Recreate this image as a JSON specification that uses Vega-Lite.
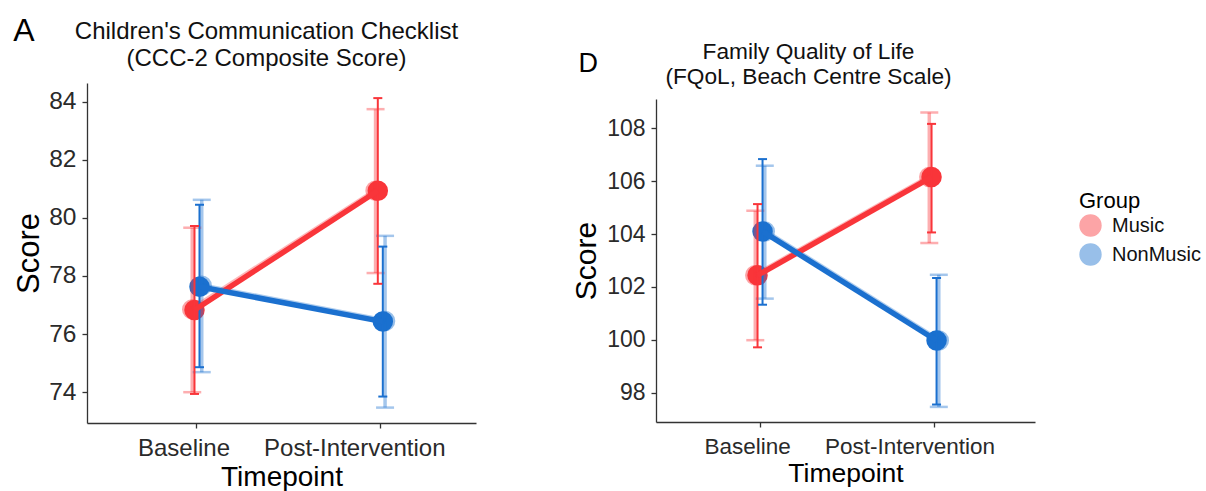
{
  "$schema": "https://vega.github.io/schema/vega-lite/v6.json",
  "background": "white",
  "padding": {"left": 12, "top": 14, "right": 171, "bottom": 0},
  "config": {
    "font": "Liberation Sans",
    "view": {"stroke": null},
    "axis": {"grid": false, "domainColor": "#333", "tickColor": "#333", "labelColor": "#2a2a2a", "titleColor": "#000", "titleFontWeight": "normal", "domainWidth": 1.3, "tickWidth": 1.3, "labelLimit": 400}
  },
  "datasets": {
    "ccc": [
      {"Timepoint": "Baseline", "Group": "Music", "est": "raw", "mean": 76.85, "lo": 74.0, "hi": 79.66},
      {"Timepoint": "Baseline", "Group": "NonMusic", "est": "raw", "mean": 77.66, "lo": 74.69, "hi": 80.62},
      {"Timepoint": "Post-Intervention", "Group": "Music", "est": "raw", "mean": 80.93, "lo": 78.1, "hi": 83.74},
      {"Timepoint": "Post-Intervention", "Group": "NonMusic", "est": "raw", "mean": 76.45, "lo": 73.47, "hi": 79.38},
      {"Timepoint": "Baseline", "Group": "Music", "est": "model", "mean": 76.83, "lo": 73.94, "hi": 79.72},
      {"Timepoint": "Baseline", "Group": "NonMusic", "est": "model", "mean": 77.63, "lo": 74.86, "hi": 80.45},
      {"Timepoint": "Post-Intervention", "Group": "Music", "est": "model", "mean": 80.93, "lo": 77.73, "hi": 84.12},
      {"Timepoint": "Post-Intervention", "Group": "NonMusic", "est": "model", "mean": 76.43, "lo": 73.85, "hi": 79.01}
    ],
    "fqol": [
      {"Timepoint": "Baseline", "Group": "Music", "est": "raw", "mean": 102.44, "lo": 99.99, "hi": 104.88},
      {"Timepoint": "Baseline", "Group": "NonMusic", "est": "raw", "mean": 104.1, "lo": 101.56, "hi": 106.58},
      {"Timepoint": "Post-Intervention", "Group": "Music", "est": "raw", "mean": 106.15, "lo": 103.66, "hi": 108.59},
      {"Timepoint": "Post-Intervention", "Group": "NonMusic", "est": "raw", "mean": 99.98, "lo": 97.47, "hi": 102.46},
      {"Timepoint": "Baseline", "Group": "Music", "est": "model", "mean": 102.44, "lo": 99.72, "hi": 105.13},
      {"Timepoint": "Baseline", "Group": "NonMusic", "est": "model", "mean": 104.1, "lo": 101.33, "hi": 106.83},
      {"Timepoint": "Post-Intervention", "Group": "Music", "est": "model", "mean": 106.15, "lo": 104.06, "hi": 108.16},
      {"Timepoint": "Post-Intervention", "Group": "NonMusic", "est": "model", "mean": 99.98, "lo": 97.56, "hi": 102.34}
    ]
  },
  "spacing": 95,
  "resolve": {"scale": {"color": "shared"}, "legend": {"color": "shared"}},
  "hconcat": [
    {
      "width": 389,
      "height": 340,
      "data": {"name": "ccc"},
      "resolve": {"scale": {"xOffset": "independent"}, "axis": {"x": "independent", "y": "independent"}},
      "layer": [
        {
          "transform": [{"filter": {"field": "est", "equal": "model"}}],
          "mark": {"type": "point", "filled": true, "size": 420, "opacity": 1, "strokeWidth": 0},
          "encoding": {
            "x": {"field": "Timepoint", "type": "nominal", "sort": ["Baseline", "Post-Intervention"], "scale": {"type": "band", "paddingInner": 0, "paddingOuter": 0.061, "align": 0.82}, "axis": {"orient": "bottom", "title": "Timepoint", "titleFontSize": 28, "titlePadding": 3, "labelFontSize": 24, "labelAngle": 0, "labelPadding": 8, "tickSize": 5, "labelOffset": {"condition": {"test": "datum.value === 'Baseline'", "value": -13}, "value": -25.5}}},
            "xOffset": {"field": "Group", "type": "nominal", "scale": {"type": "point", "domain": ["Music", "NonMusic"], "range": [86.65, 96.65]}},
            "y": {"field": "mean", "type": "quantitative", "scale": {"domain": [72.94, 84.64], "nice": false, "zero": false}, "axis": {"orient": "left", "title": "Score", "titleFontSize": 31, "titlePadding": 3, "labelFontSize": 24.5, "labelPadding": 6, "tickSize": 5, "values": [74, 76, 78, 80, 82, 84]}},
            "color": {"field": "Group", "type": "nominal", "scale": {"domain": ["Music", "NonMusic"], "range": ["#F9353A", "#1B70CF"]}, "legend": {"title": "Group", "orient": "none", "legendX": 992, "legendY": 108, "symbolType": "circle", "symbolSize": 500, "symbolOpacity": 1, "symbolStrokeWidth": 0, "labelFontSize": 20, "labelColor": "#111", "titleFontSize": 22, "titleFontWeight": "normal", "titleColor": "#000", "labelOffset": 10, "rowPadding": 6, "titlePadding": 1, "padding": 0}}
          }
        },
        {
          "transform": [{"filter": {"field": "est", "equal": "raw"}}],
          "mark": {"type": "point", "filled": true, "size": 420, "opacity": 0.45, "strokeWidth": 0},
          "encoding": {
            "x": {"field": "Timepoint", "type": "nominal", "sort": ["Baseline", "Post-Intervention"], "axis": null},
            "xOffset": {"field": "Group", "type": "nominal", "scale": {"type": "point", "domain": ["Music", "NonMusic"], "range": [82.15, 101.15]}},
            "y": {"field": "mean", "type": "quantitative", "axis": null},
            "color": {"field": "Group", "type": "nominal"}
          }
        },
        {
          "transform": [{"filter": {"field": "est", "equal": "raw"}}],
          "mark": {"type": "rule", "strokeWidth": 3.5, "opacity": 0.4},
          "encoding": {
            "x": {"field": "Timepoint", "type": "nominal", "sort": ["Baseline", "Post-Intervention"], "axis": null},
            "xOffset": {"field": "Group", "type": "nominal", "scale": {"type": "point", "domain": ["Music", "NonMusic"], "range": [82.15, 101.15]}},
            "y": {"field": "lo", "type": "quantitative", "axis": null},
            "y2": {"field": "hi"},
            "color": {"field": "Group", "type": "nominal"}
          }
        },
        {
          "transform": [{"filter": {"field": "est", "equal": "raw"}}],
          "mark": {"type": "tick", "size": 18, "thickness": 2.5, "opacity": 0.4},
          "encoding": {
            "x": {"field": "Timepoint", "type": "nominal", "sort": ["Baseline", "Post-Intervention"], "axis": null},
            "xOffset": {"field": "Group", "type": "nominal", "scale": {"type": "point", "domain": ["Music", "NonMusic"], "range": [82.15, 101.15]}},
            "y": {"field": "hi", "type": "quantitative", "axis": null},
            "color": {"field": "Group", "type": "nominal"}
          }
        },
        {
          "transform": [{"filter": {"field": "est", "equal": "raw"}}],
          "mark": {"type": "tick", "size": 18, "thickness": 2.5, "opacity": 0.4},
          "encoding": {
            "x": {"field": "Timepoint", "type": "nominal", "sort": ["Baseline", "Post-Intervention"], "axis": null},
            "xOffset": {"field": "Group", "type": "nominal", "scale": {"type": "point", "domain": ["Music", "NonMusic"], "range": [82.15, 101.15]}},
            "y": {"field": "lo", "type": "quantitative", "axis": null},
            "color": {"field": "Group", "type": "nominal"}
          }
        },
        {
          "transform": [{"filter": {"field": "est", "equal": "raw"}}],
          "mark": {"type": "line", "strokeWidth": 5.5, "opacity": 0.35},
          "encoding": {
            "x": {"field": "Timepoint", "type": "nominal", "sort": ["Baseline", "Post-Intervention"], "axis": null},
            "xOffset": {"field": "Group", "type": "nominal", "scale": {"type": "point", "domain": ["Music", "NonMusic"], "range": [82.15, 101.15]}},
            "y": {"field": "mean", "type": "quantitative", "axis": null},
            "color": {"field": "Group", "type": "nominal"}
          }
        },
        {
          "transform": [{"filter": {"field": "est", "equal": "model"}}],
          "mark": {"type": "rule", "strokeWidth": 2, "opacity": 1},
          "encoding": {
            "x": {"field": "Timepoint", "type": "nominal", "sort": ["Baseline", "Post-Intervention"], "axis": null},
            "xOffset": {"field": "Group", "type": "nominal", "scale": {"type": "point", "domain": ["Music", "NonMusic"], "range": [86.65, 96.65]}},
            "y": {"field": "lo", "type": "quantitative", "axis": null},
            "y2": {"field": "hi"},
            "color": {"field": "Group", "type": "nominal"}
          }
        },
        {
          "transform": [{"filter": {"field": "est", "equal": "model"}}],
          "mark": {"type": "tick", "size": 9, "thickness": 2, "opacity": 1},
          "encoding": {
            "x": {"field": "Timepoint", "type": "nominal", "sort": ["Baseline", "Post-Intervention"], "axis": null},
            "xOffset": {"field": "Group", "type": "nominal", "scale": {"type": "point", "domain": ["Music", "NonMusic"], "range": [86.65, 96.65]}},
            "y": {"field": "hi", "type": "quantitative", "axis": null},
            "color": {"field": "Group", "type": "nominal"}
          }
        },
        {
          "transform": [{"filter": {"field": "est", "equal": "model"}}],
          "mark": {"type": "tick", "size": 9, "thickness": 2, "opacity": 1},
          "encoding": {
            "x": {"field": "Timepoint", "type": "nominal", "sort": ["Baseline", "Post-Intervention"], "axis": null},
            "xOffset": {"field": "Group", "type": "nominal", "scale": {"type": "point", "domain": ["Music", "NonMusic"], "range": [86.65, 96.65]}},
            "y": {"field": "lo", "type": "quantitative", "axis": null},
            "color": {"field": "Group", "type": "nominal"}
          }
        },
        {
          "transform": [{"filter": {"field": "est", "equal": "model"}}],
          "mark": {"type": "line", "strokeWidth": 5.5, "opacity": 1},
          "encoding": {
            "x": {"field": "Timepoint", "type": "nominal", "sort": ["Baseline", "Post-Intervention"], "axis": {"orient": "top", "domain": false, "ticks": false, "labels": false, "title": ["Children's Communication Checklist", "(CCC-2 Composite Score)"], "titleFontSize": 24, "titleLineHeight": 26.5, "titleX": 179, "titleY": -44.5, "titleAlign": "center", "titleBaseline": "alphabetic", "titleAngle": 0, "titleColor": "#111"}},
            "xOffset": {"field": "Group", "type": "nominal", "scale": {"type": "point", "domain": ["Music", "NonMusic"], "range": [86.65, 96.65]}},
            "y": {"field": "mean", "type": "quantitative", "axis": {"orient": "right", "domain": false, "ticks": false, "labels": false, "title": "A", "titleAngle": 0, "titleX": -463.3, "titleY": -43, "titleAlign": "left", "titleBaseline": "alphabetic", "titleFontSize": 32, "titleColor": "#000"}},
            "color": {"field": "Group", "type": "nominal"}
          }
        }
      ]
    },
    {
      "width": 379,
      "height": 339,
      "data": {"name": "fqol"},
      "resolve": {"scale": {"xOffset": "independent"}, "axis": {"x": "independent", "y": "independent"}},
      "layer": [
        {
          "transform": [{"filter": {"field": "est", "equal": "model"}}],
          "mark": {"type": "point", "filled": true, "size": 420, "opacity": 1, "strokeWidth": 0},
          "encoding": {
            "x": {"field": "Timepoint", "type": "nominal", "sort": ["Baseline", "Post-Intervention"], "scale": {"type": "band", "paddingInner": 0, "paddingOuter": 0.089, "align": 0.55}, "axis": {"orient": "bottom", "title": "Timepoint", "titleFontSize": 26.5, "titlePadding": 3, "labelFontSize": 22.5, "labelAngle": 0, "labelPadding": 8, "tickSize": 5, "labelOffset": {"condition": {"test": "datum.value === 'Baseline'", "value": -12.5}, "value": -24}}},
            "xOffset": {"field": "Group", "type": "nominal", "scale": {"type": "point", "domain": ["Music", "NonMusic"], "range": [82, 92]}},
            "y": {"field": "mean", "type": "quantitative", "scale": {"domain": [96.9, 109.1], "range": [339, 16], "nice": false, "zero": false}, "axis": {"orient": "left", "title": "Score", "titleFontSize": 30, "titlePadding": 5, "labelFontSize": 23, "labelPadding": 6, "tickSize": 5, "values": [98, 100, 102, 104, 106, 108]}},
            "color": {"field": "Group", "type": "nominal", "scale": {"domain": ["Music", "NonMusic"], "range": ["#F9353A", "#1B70CF"]}, "legend": {"title": "Group", "orient": "none", "legendX": 992, "legendY": 108, "symbolType": "circle", "symbolSize": 500, "symbolOpacity": 1, "symbolStrokeWidth": 0, "labelFontSize": 20, "labelColor": "#111", "titleFontSize": 22, "titleFontWeight": "normal", "titleColor": "#000", "labelOffset": 10, "rowPadding": 6, "titlePadding": 1, "padding": 0}}
          }
        },
        {
          "transform": [{"filter": {"field": "est", "equal": "raw"}}],
          "mark": {"type": "point", "filled": true, "size": 420, "opacity": 0.45, "strokeWidth": 0},
          "encoding": {
            "x": {"field": "Timepoint", "type": "nominal", "sort": ["Baseline", "Post-Intervention"], "axis": null},
            "xOffset": {"field": "Group", "type": "nominal", "scale": {"type": "point", "domain": ["Music", "NonMusic"], "range": [77.5, 96.5]}},
            "y": {"field": "mean", "type": "quantitative", "axis": null},
            "color": {"field": "Group", "type": "nominal"}
          }
        },
        {
          "transform": [{"filter": {"field": "est", "equal": "raw"}}],
          "mark": {"type": "rule", "strokeWidth": 3.5, "opacity": 0.4},
          "encoding": {
            "x": {"field": "Timepoint", "type": "nominal", "sort": ["Baseline", "Post-Intervention"], "axis": null},
            "xOffset": {"field": "Group", "type": "nominal", "scale": {"type": "point", "domain": ["Music", "NonMusic"], "range": [77.5, 96.5]}},
            "y": {"field": "lo", "type": "quantitative", "axis": null},
            "y2": {"field": "hi"},
            "color": {"field": "Group", "type": "nominal"}
          }
        },
        {
          "transform": [{"filter": {"field": "est", "equal": "raw"}}],
          "mark": {"type": "tick", "size": 18, "thickness": 2.5, "opacity": 0.4},
          "encoding": {
            "x": {"field": "Timepoint", "type": "nominal", "sort": ["Baseline", "Post-Intervention"], "axis": null},
            "xOffset": {"field": "Group", "type": "nominal", "scale": {"type": "point", "domain": ["Music", "NonMusic"], "range": [77.5, 96.5]}},
            "y": {"field": "hi", "type": "quantitative", "axis": null},
            "color": {"field": "Group", "type": "nominal"}
          }
        },
        {
          "transform": [{"filter": {"field": "est", "equal": "raw"}}],
          "mark": {"type": "tick", "size": 18, "thickness": 2.5, "opacity": 0.4},
          "encoding": {
            "x": {"field": "Timepoint", "type": "nominal", "sort": ["Baseline", "Post-Intervention"], "axis": null},
            "xOffset": {"field": "Group", "type": "nominal", "scale": {"type": "point", "domain": ["Music", "NonMusic"], "range": [77.5, 96.5]}},
            "y": {"field": "lo", "type": "quantitative", "axis": null},
            "color": {"field": "Group", "type": "nominal"}
          }
        },
        {
          "transform": [{"filter": {"field": "est", "equal": "raw"}}],
          "mark": {"type": "line", "strokeWidth": 5.5, "opacity": 0.35},
          "encoding": {
            "x": {"field": "Timepoint", "type": "nominal", "sort": ["Baseline", "Post-Intervention"], "axis": null},
            "xOffset": {"field": "Group", "type": "nominal", "scale": {"type": "point", "domain": ["Music", "NonMusic"], "range": [77.5, 96.5]}},
            "y": {"field": "mean", "type": "quantitative", "axis": null},
            "color": {"field": "Group", "type": "nominal"}
          }
        },
        {
          "transform": [{"filter": {"field": "est", "equal": "model"}}],
          "mark": {"type": "rule", "strokeWidth": 2, "opacity": 1},
          "encoding": {
            "x": {"field": "Timepoint", "type": "nominal", "sort": ["Baseline", "Post-Intervention"], "axis": null},
            "xOffset": {"field": "Group", "type": "nominal", "scale": {"type": "point", "domain": ["Music", "NonMusic"], "range": [82, 92]}},
            "y": {"field": "lo", "type": "quantitative", "axis": null},
            "y2": {"field": "hi"},
            "color": {"field": "Group", "type": "nominal"}
          }
        },
        {
          "transform": [{"filter": {"field": "est", "equal": "model"}}],
          "mark": {"type": "tick", "size": 9, "thickness": 2, "opacity": 1},
          "encoding": {
            "x": {"field": "Timepoint", "type": "nominal", "sort": ["Baseline", "Post-Intervention"], "axis": null},
            "xOffset": {"field": "Group", "type": "nominal", "scale": {"type": "point", "domain": ["Music", "NonMusic"], "range": [82, 92]}},
            "y": {"field": "hi", "type": "quantitative", "axis": null},
            "color": {"field": "Group", "type": "nominal"}
          }
        },
        {
          "transform": [{"filter": {"field": "est", "equal": "model"}}],
          "mark": {"type": "tick", "size": 9, "thickness": 2, "opacity": 1},
          "encoding": {
            "x": {"field": "Timepoint", "type": "nominal", "sort": ["Baseline", "Post-Intervention"], "axis": null},
            "xOffset": {"field": "Group", "type": "nominal", "scale": {"type": "point", "domain": ["Music", "NonMusic"], "range": [82, 92]}},
            "y": {"field": "lo", "type": "quantitative", "axis": null},
            "color": {"field": "Group", "type": "nominal"}
          }
        },
        {
          "transform": [{"filter": {"field": "est", "equal": "model"}}],
          "mark": {"type": "line", "strokeWidth": 5.5, "opacity": 1},
          "encoding": {
            "x": {"field": "Timepoint", "type": "nominal", "sort": ["Baseline", "Post-Intervention"], "axis": {"orient": "top", "domain": false, "ticks": false, "labels": false, "title": ["Family Quality of Life", "(FQoL, Beach Centre Scale)"], "titleFontSize": 22.7, "titleLineHeight": 25, "titleX": 152, "titleY": -24.7, "titleAlign": "center", "titleBaseline": "alphabetic", "titleAngle": 0, "titleColor": "#111"}},
            "xOffset": {"field": "Group", "type": "nominal", "scale": {"type": "point", "domain": ["Music", "NonMusic"], "range": [82, 92]}},
            "y": {"field": "mean", "type": "quantitative", "axis": {"orient": "right", "domain": false, "ticks": false, "labels": false, "title": "D", "titleAngle": 0, "titleX": -457, "titleY": -11.3, "titleAlign": "left", "titleBaseline": "alphabetic", "titleFontSize": 27, "titleColor": "#000"}},
            "color": {"field": "Group", "type": "nominal"}
          }
        }
      ]
    }
  ]
}
